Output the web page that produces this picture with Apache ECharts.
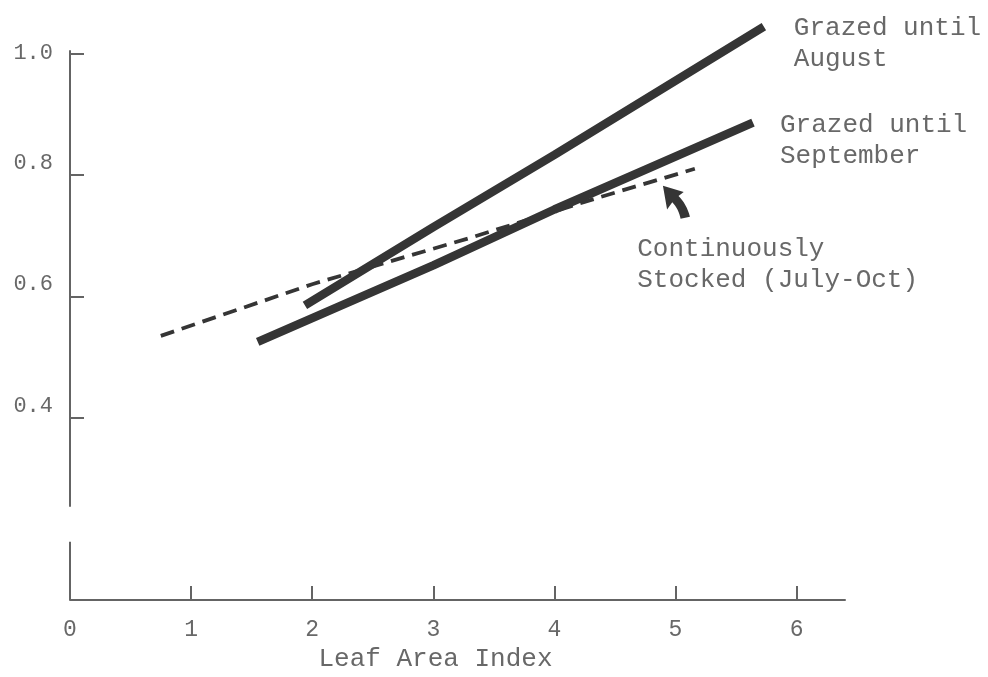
<!DOCTYPE html>
<html>
<head>
<meta charset="utf-8">
<script src="https://cdn.jsdelivr.net/npm/echarts@6/dist/echarts.min.js"></script>
<style>
  html, body { margin: 0; padding: 0; background: #ffffff; }
  #chart { width: 988px; height: 677px; }
</style>
</head>
<body>
<div id="chart"></div>
<script>
// Leaf Area Index (x) against the response on the y scale for three grazing treatments
const augustX = [1.94, 3.0, 4.0, 5.73];
const augustY = [0.585, 0.714, 0.833, 1.044];

const septemberX = [1.55, 3.0, 4.0, 5.64];
const septemberY = [0.525, 0.651, 0.743, 0.886];

const continuousX = [0.75, 2.0, 3.3, 4.37, 5.16];
const continuousY = [0.535, 0.62, 0.696, 0.763, 0.81];

const xTickValues = [0, 1, 2, 3, 4, 5, 6];
const yTickValues = [0.4, 0.6, 0.8, 1.0];

// broken y axis: a short stub above the x axis, then the main scale
const yAxisLower = [0.1, 0.196];
const yAxisUpper = [0.2535, 1.005];

const augustLabel = 'Grazed until\nAugust';
const septemberLabel = 'Grazed until\nSeptember';
const continuousLabel = 'Continuously\nStocked (July-Oct)';
const continuousLabelAt = [4.68, 0.652];
const arrowAt = [5.008, 0.755];

const xName = 'Leaf Area Index';

const FONT = '"Liberation Mono", "DejaVu Sans Mono", monospace';
const TEXT = '#686868';
const AXIS = '#646464';
const INK = '#353535';

const pairs = (xs, ys) => xs.map((x, i) => [x, ys[i]]);

const chart = echarts.init(document.getElementById('chart'), null, { renderer: 'canvas' });

const noteText = {
  fontFamily: FONT,
  fontSize: 26,
  color: TEXT,
  lineHeight: 31
};

chart.setOption({
  animation: false,
  backgroundColor: '#ffffff',
  grid: { left: 70, right: 143, top: 23, bottom: 70, containLabel: false },
  xAxis: {
    type: 'value',
    min: 0,
    max: 6.4,
    name: xName,
    nameLocation: 'middle',
    nameGap: 42,
    nameTextStyle: { fontFamily: FONT, fontSize: 26, color: TEXT, padding: [0, 44, 0, 0] },
    axisLine: { show: true, onZero: false, lineStyle: { color: AXIS, width: 2 } },
    axisTick: {
      show: true, inside: true, length: 14,
      customValues: xTickValues.slice(1),
      lineStyle: { color: AXIS, width: 2 }
    },
    axisLabel: {
      show: true, margin: 18,
      customValues: xTickValues,
      fontFamily: FONT, fontSize: 23, color: TEXT,
      formatter: v => String(v)
    },
    splitLine: { show: false }
  },
  yAxis: {
    type: 'value',
    min: 0.1,
    max: 1.05,
    axisLine: { show: false },
    axisTick: {
      show: true, inside: true, length: 14,
      customValues: yTickValues,
      lineStyle: { color: AXIS, width: 2 }
    },
    axisLabel: {
      show: true, margin: 17,
      customValues: yTickValues,
      fontFamily: FONT, fontSize: 22, color: TEXT,
      formatter: v => (Math.abs(v - 1) < 1e-9 ? '{top|' + v.toFixed(1) + '}' : '{up|' + v.toFixed(1) + '}'),
      rich: {
        top: { fontFamily: FONT, fontSize: 22, color: TEXT },
        up: { fontFamily: FONT, fontSize: 22, color: TEXT, padding: [0, 0, 24, 0] }
      }
    },
    splitLine: { show: false }
  },
  series: [
    {
      name: 'y axis',
      type: 'line',
      silent: true,
      symbol: 'none',
      clip: false,
      z: 1,
      lineStyle: { color: AXIS, width: 2 },
      data: [
        [0, yAxisLower[0]], [0, yAxisLower[1]],
        [0, '-'],
        [0, yAxisUpper[0]], [0, yAxisUpper[1]]
      ]
    },
    {
      name: 'Continuously Stocked (July-Oct)',
      type: 'line',
      symbol: 'none',
      clip: false,
      z: 3,
      lineStyle: { color: INK, width: 3.8, type: [14, 8], cap: 'butt' },
      data: pairs(continuousX, continuousY),
      markPoint: {
        silent: true,
        animation: false,
        data: [
          {
            coord: arrowAt,
            symbol: 'path://M0,0 L20,6 L15,10 C20,15 24,22 26,30 L17,32 C16,26 13,20 9,16 L4,23 Z',
            symbolSize: [27, 33],
            itemStyle: { color: INK },
            label: { show: false }
          },
          {
            coord: continuousLabelAt,
            symbol: 'rect',
            symbolSize: 1,
            itemStyle: { color: 'rgba(0,0,0,0)' },
            label: Object.assign({
              show: true, position: 'right', distance: 0, align: 'left',
              verticalAlign: 'middle', formatter: continuousLabel
            }, noteText)
          }
        ]
      }
    },
    {
      name: 'Grazed until September',
      type: 'line',
      symbol: 'none',
      clip: false,
      z: 4,
      lineStyle: { color: INK, width: 8.5, cap: 'butt' },
      data: pairs(septemberX, septemberY),
      endLabel: Object.assign({
        show: true, distance: 0, offset: [27, 18], align: 'left',
        verticalAlign: 'middle', formatter: septemberLabel
      }, noteText)
    },
    {
      name: 'Grazed until August',
      type: 'line',
      symbol: 'none',
      clip: false,
      z: 4,
      lineStyle: { color: INK, width: 8.5, cap: 'butt' },
      data: pairs(augustX, augustY),
      endLabel: Object.assign({
        show: true, distance: 0, offset: [30, 17], align: 'left',
        verticalAlign: 'middle', formatter: augustLabel
      }, noteText)
    }
  ]
});
</script>
</body>
</html>
